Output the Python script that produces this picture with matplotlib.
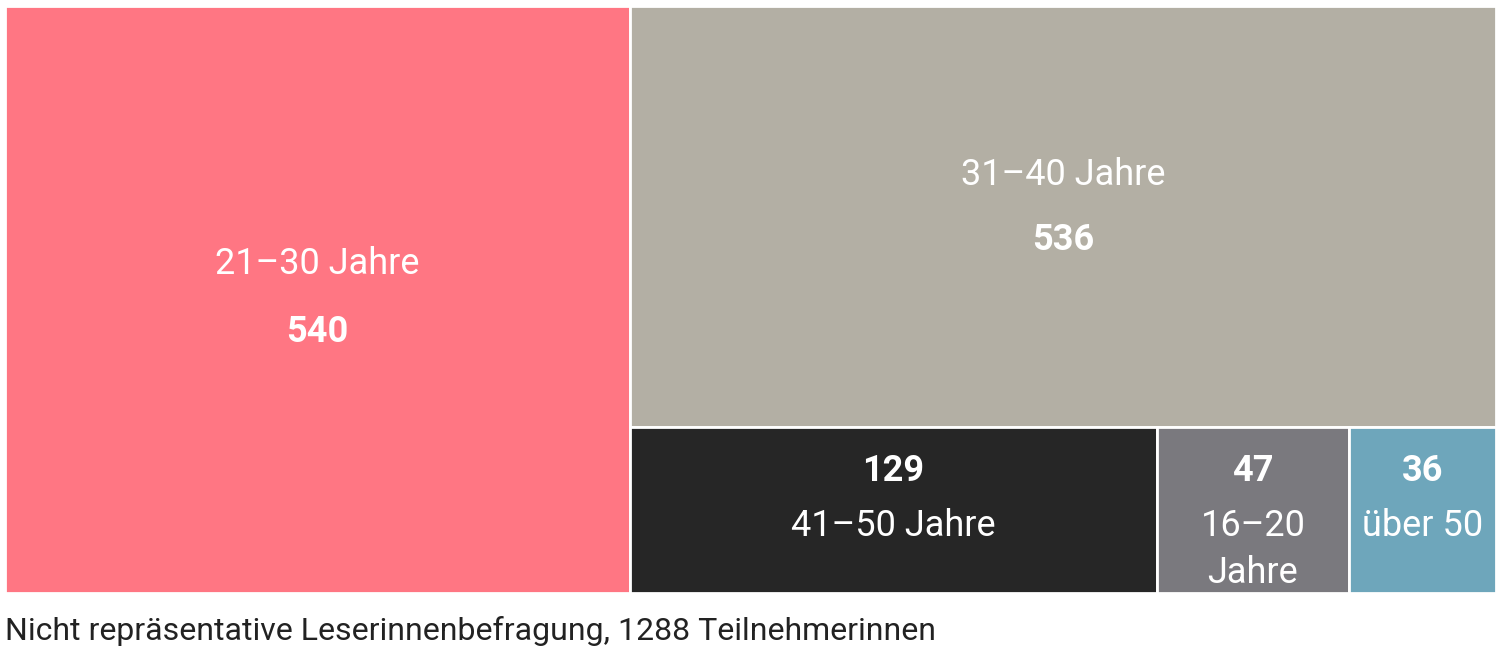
import matplotlib.pyplot as plt
from matplotlib.patches import Rectangle

plt.rcParams['font.family'] = ['Roboto', 'DejaVu Sans']

# Altersgruppen der Teilnehmerinnen
labels = ["21–30 Jahre", "31–40 Jahre", "41–50 Jahre", "16–20\nJahre", "über 50"]
values = [540, 536, 129, 47, 36]
colors = ["#ff7683", "#b3afa4", "#262626", "#7a797e", "#6ea6bb"]
note = "Nicht repräsentative Leserinnenbefragung, 1288 Teilnehmerinnen"

fig = plt.figure(figsize=(15, 6.57), dpi=100)
ax = fig.add_axes([0, 0, 1, 1])
ax.set_xlim(0, 1500)
ax.set_ylim(657, 0)
ax.axis('off')

# Fläche der Kacheln
x0, y0, x1, y1 = 5, 6, 1496, 593
W, H = x1 - x0, y1 - y0
total = sum(values)

rects = []
# links: groesste Gruppe als volle Spalte
w0 = W * values[0] / total
rects.append((x0, y0, w0, H))
rest = total - values[0]
rx = x0 + w0
rw = W - w0
# rechts oben: zweite Gruppe
h1 = H * values[1] / rest
rects.append((rx, y0, rw, h1))
# rechts unten: Reihe mit den kleinen Gruppen
small = values[2:]
bx = rx
for v in small:
    bw = rw * v / sum(small)
    rects.append((bx, y0 + h1, bw, H - h1))
    bx += bw

for (x, y, w, h), c in zip(rects, colors):
    ax.add_patch(Rectangle((x, y), w, h, facecolor=c, edgecolor='white', linewidth=2))

fs_lab = 26
fs_num = 26

# grosse Kacheln: Beschriftung oben, Zahl darunter
for i, (dl, dn) in enumerate([(-36, 33), (-41, 24)]):
    x, y, w, h = rects[i]
    cx, cy = x + w / 2, y + h / 2
    ax.text(cx, cy + dl, labels[i], ha='center', va='center', color='white',
            fontsize=fs_lab)
    ax.text(cx, cy + dn, str(values[i]), ha='center', va='center', color='white',
            fontsize=fs_num, fontweight='bold')

# kleine Kacheln: Zahl oben, Beschriftung darunter
for i in range(2, 5):
    x, y, w, h = rects[i]
    cx = x + w / 2
    ax.text(cx, y + 44, str(values[i]), ha='center', va='center', color='white',
            fontsize=fs_num, fontweight='bold')
    ax.text(cx, y + 81, labels[i], ha='center', va='top', color='white',
            fontsize=fs_lab, linespacing=1.4)

ax.text(5, 631, note, ha='left', va='center', color='#222222', fontsize=23)

fig.savefig('out.png', dpi=100)
